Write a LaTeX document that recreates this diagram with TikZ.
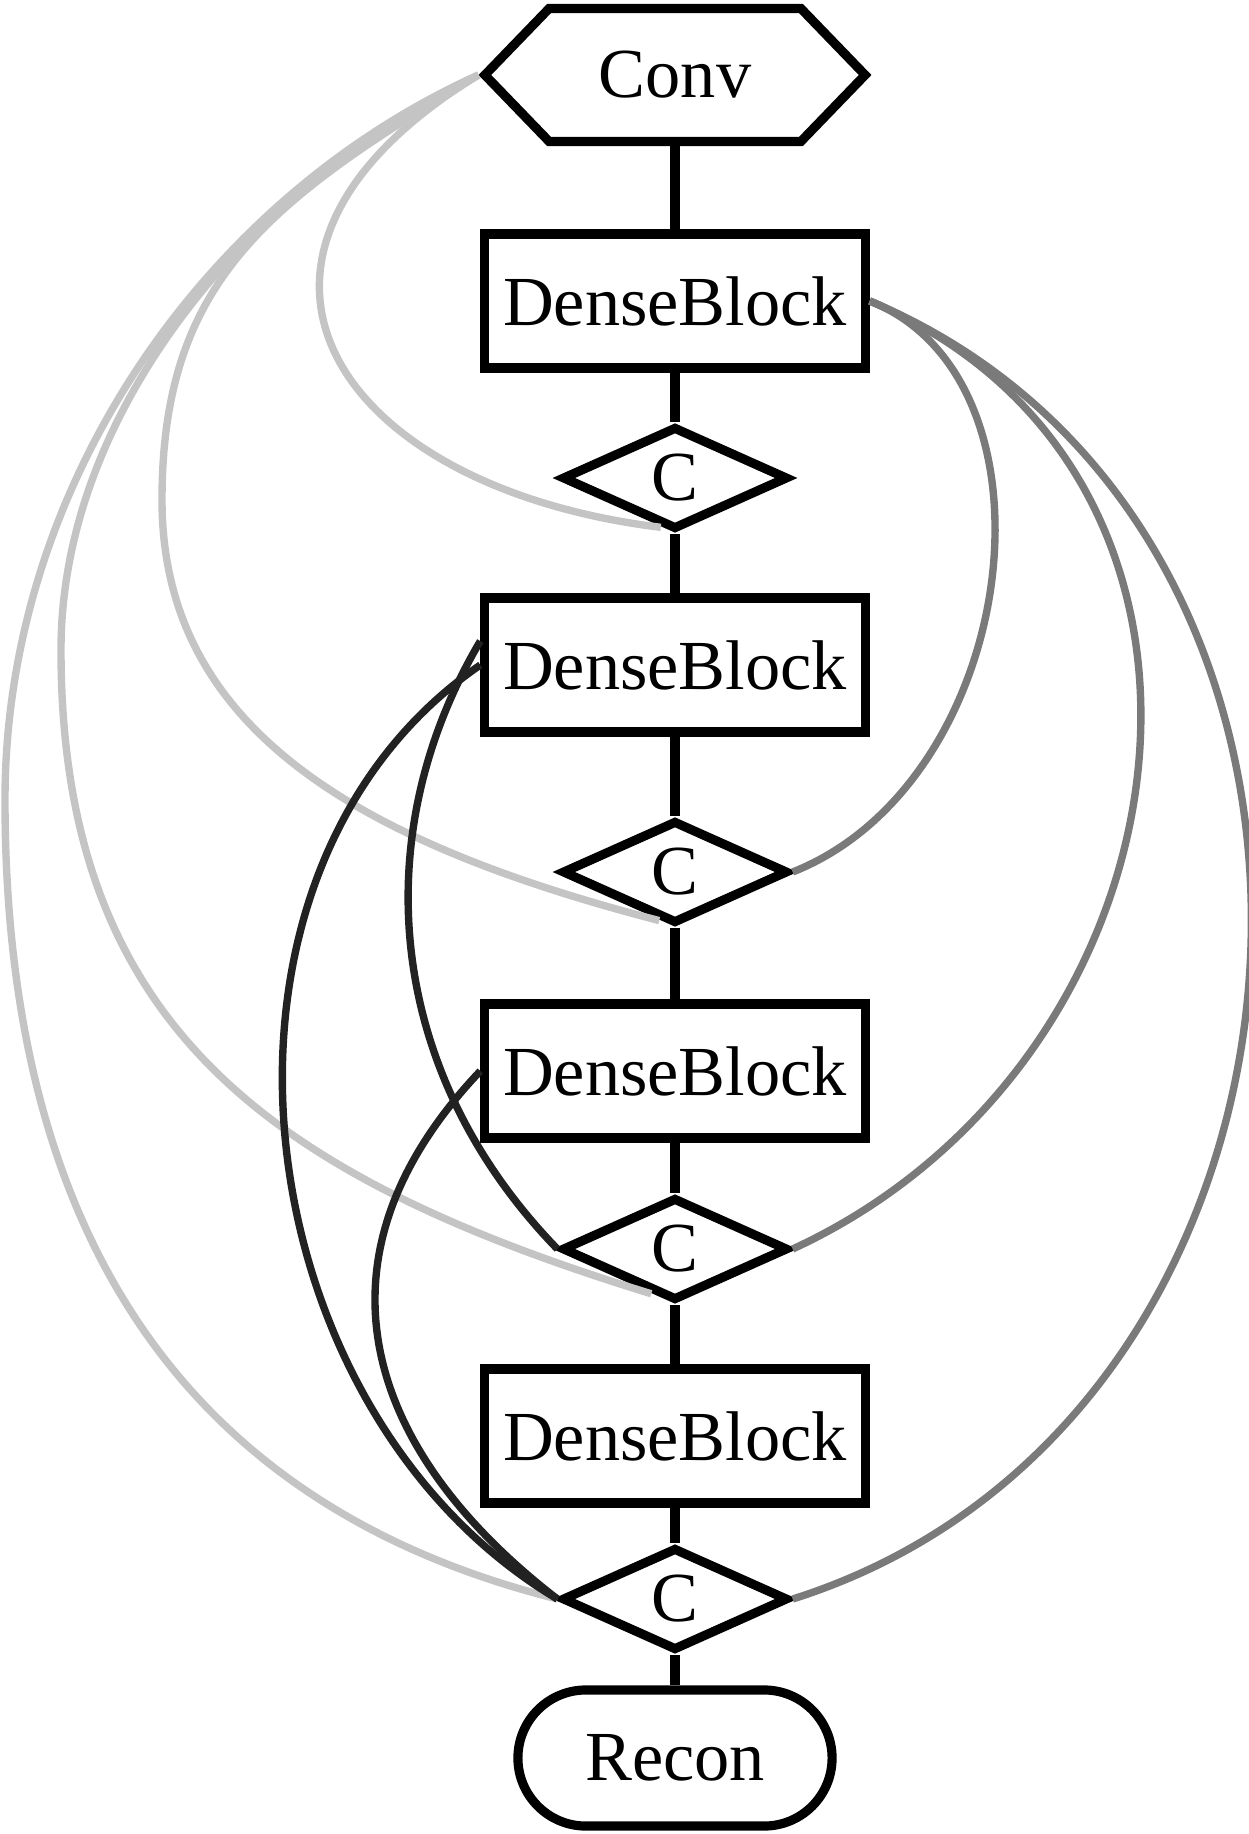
\documentclass[tikz,border=0pt]{standalone}
\usepackage{fontspec}
\setmainfont{Liberation Serif}
\usetikzlibrary{shapes.geometric,shapes.misc,shapes.symbols}
\definecolor{lgray}{HTML}{C4C4C4}
\definecolor{mgray}{HTML}{7A7A7A}
\definecolor{dgray}{HTML}{222222}
\tikzset{
  block/.style={draw,line width=2.6pt,minimum width=3.8cm,minimum height=1.34cm,inner sep=0pt},
  cat/.style={draw,diamond,line width=2.6pt,aspect=2.2,minimum width=2.26cm,minimum height=1.03cm,inner sep=0pt},
  convbox/.style={draw,signal,signal to=west and east,signal pointer angle=92,line width=2.6pt,minimum width=3.8cm,minimum height=1.33cm,inner sep=0pt},
  reconbox/.style={draw,rounded rectangle,line width=2.6pt,minimum width=3.14cm,minimum height=1.36cm,inner sep=0pt},
  link/.style={line width=2.6pt},
  fromconv/.style={line width=2.1pt,lgray},
  fromfirst/.style={line width=2.1pt,mgray},
  fromblock/.style={line width=2.1pt,dgray}
}
\begin{document}
\begin{tikzpicture}[x=0.01cm,y=-0.01cm,font=\fontsize{20}{24}\selectfont]
  \useasboundingbox (0,0) rectangle (1248,1834);
  \node[convbox] (conv) at (675,75) {Conv};
  \node[block] (db1) at (675,301) {DenseBlock};
  \node[cat] (c1) at (675,478) {C};
  \node[block] (db2) at (675,665) {DenseBlock};
  \node[cat] (c2) at (675,872) {C};
  \node[block] (db3) at (675,1071) {DenseBlock};
  \node[cat] (c3) at (675,1249) {C};
  \node[block] (db4) at (675,1436) {DenseBlock};
  \node[cat] (c4) at (675,1599) {C};
  \node[reconbox] (recon) at (675,1758) {Recon};

  \draw[fromconv] (conv.west) .. controls (183,255) and (331,487) .. (c1.254);
  \draw[fromconv] (conv.west) .. controls (269,201) and (162,280) .. (162,500)
    .. controls (162,730) and (360,843) .. (c2.252);
  \draw[fromconv] (conv.west) .. controls (282,164) and (61,390) .. (61,650)
    .. controls (61,1030) and (275,1178) .. (c3.242);
  \draw[fromconv] (conv.west) .. controls (211,195) and (5,480) .. (5,800)
    .. controls (5,1200) and (158,1499) .. (c4.west);

  \draw[fromfirst] (db1.east) .. controls (1070,380) and (1020,782) .. (c2.east);
  \draw[fromfirst] (db1.east) .. controls (1279,474) and (1202,1060) .. (c3.east);
  \draw[fromfirst] (db1.east) .. controls (1417,531) and (1362,1419) .. (c4.east);

  \draw[fromblock] (db2.173) .. controls (367,832) and (383,1069) .. (c3.west);
  \draw[fromblock] (db2.west) .. controls (175,875) and (240,1410) .. (c4.west);
  \draw[fromblock] (db3.west) .. controls (300,1261) and (368,1453) .. (c4.west);

  \draw[link] (conv.south) -- (db1.north);
  \draw[link] (db1.south) -- (c1.north) (c1.south) -- (db2.north);
  \draw[link] (db2.south) -- (c2.north) (c2.south) -- (db3.north);
  \draw[link] (db3.south) -- (c3.north) (c3.south) -- (db4.north);
  \draw[link] (db4.south) -- (c4.north) (c4.south) -- (recon.north);
\end{tikzpicture}
\end{document}
